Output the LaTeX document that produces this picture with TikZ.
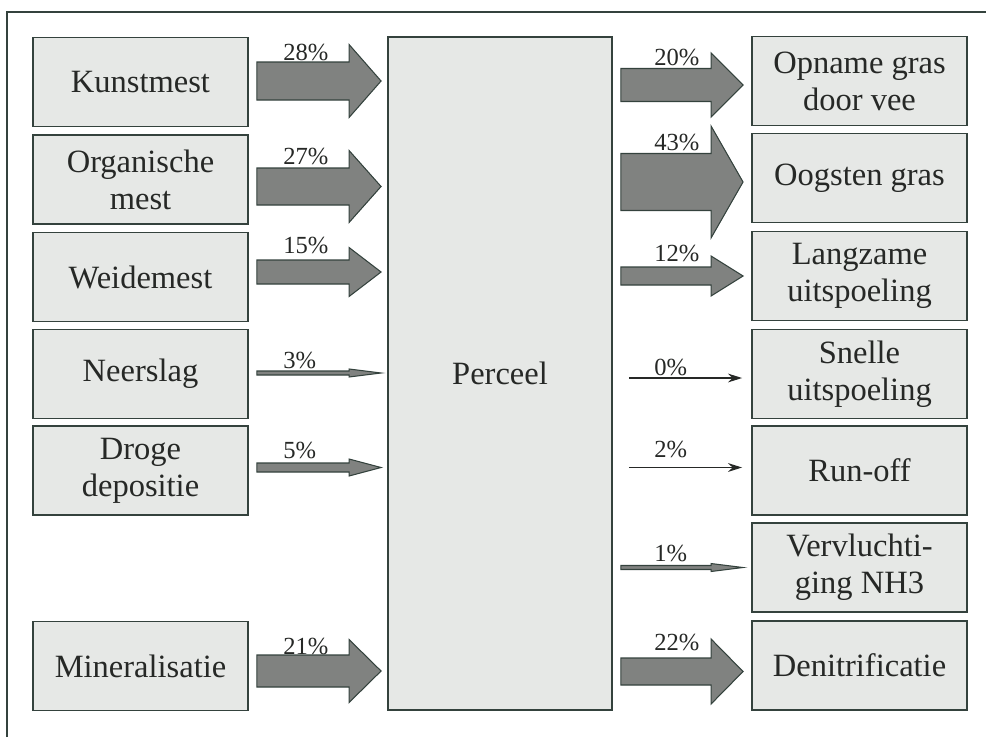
\documentclass[tikz,border=0pt]{standalone}
\usepackage{fontspec}
\setmainfont{Liberation Serif}
\usetikzlibrary{calc,arrows.meta,patterns}

\definecolor{edge}{HTML}{34423D}
\definecolor{boxfill}{HTML}{E6E8E6}
\definecolor{arrowfill}{HTML}{808280}
\definecolor{ink}{HTML}{262826}

\tikzset{
  post/.style={draw=edge, line width=1.1pt, fill=boxfill, minimum width=4.3cm,
    minimum height=1.78cm, align=center, text=ink, inner sep=2pt,
    font=\fontsize{18.5}{21}\selectfont},
  pct/.style={text=ink, font=\fontsize{14}{16}\selectfont, inner sep=0pt, anchor=west},
  flowfill/.style={draw=edge, line width=0.6pt, fill=arrowfill},
  thinflow/.style={draw=ink, line width=0.7pt, -{Stealth[length=8pt,width=5pt]}},
}

% block arrow from (s) to (t): shaft half width, head half width
\newcommand{\blockarrow}[2]{\draw[flowfill] ($(s)+(0,-#1)$) -- ($(t)+(-32,-#1)$) -- ($(t)+(-32,-#2)$) -- (t) -- ($(t)+(-32,#2)$) -- ($(t)+(-32,#1)$) -- ($(s)+(0,#1)$) -- cycle;}
% source -> perceel
\newcommand{\inflow}[6]{%
  \path ($(#1.east)+(8,#2)$) coordinate (s) ($(perceel.west |- s)+(-6,0)$) coordinate (t);
  \blockarrow{#3}{#4}
  \node[pct] at ($(s)+(26,-#6)$) {#5};}
% perceel -> target
\newcommand{\outflow}[6]{%
  \path ($(#1.west)+(-8,#2)$) coordinate (t) ($(perceel.east |- t)+(8,0)$) coordinate (s);
  \blockarrow{#3}{#4}
  \node[pct] at ($(s)+(33,-#6)$) {#5};}

\begin{document}
\begin{tikzpicture}[x=0.02cm, y=-0.02cm]
  \useasboundingbox (0,0) rectangle (986,737);
  \draw[edge, line width=1.4pt] (7,737) -- (7,12) -- (986,12);

  % sources
  \node[post] (kunst) at (140.5,82) {Kunstmest};
  \node[post] (organisch) at (140.5,179.5) {Organische\\mest};
  \node[post] (weide) at (140.5,277) {Weidemest};
  \node[post] (neerslag) at (140.5,374) {Neerslag};
  \node[post] (droge) at (140.5,470.5) {Droge\\depositie};
  \node[post] (mineraal) at (140.5,666) {Mineralisatie};

  % field
  \node[post, minimum width=4.48cm, minimum height=13.46cm] (perceel) at (500,373.5) {Perceel};

  % sinks
  \node[post] (opname) at (859.5,81) {Opname gras\\door vee};
  \node[post] (oogsten) at (859.5,178) {Oogsten gras};
  \node[post] (langzaam) at (859.5,276) {Langzame\\uitspoeling};
  \node[post] (snel) at (859.5,374) {Snelle\\uitspoeling};
  \node[post] (runoff) at (859.5,470.5) {Run-off};
  \node[post] (vervl) at (859.5,567.5) {Vervluchti-\\ging NH3};
  \node[post] (denitr) at (859.5,665.5) {Denitrificatie};

  % flows in
  \inflow{kunst}{-1}{19}{36.5}{28\%}{29}
  \inflow{organisch}{7}{18.5}{36}{27\%}{30}
  \inflow{weide}{-5}{12}{24.5}{15\%}{27}
  \inflow{neerslag}{-1}{2}{4}{3\%}{13}
  \inflow{droge}{-3}{4.5}{8.5}{5\%}{17}
  \inflow{mineraal}{5}{16}{31.5}{21\%}{25}

  % flows out
  \outflow{opname}{4}{16.5}{32}{20\%}{28}
  \outflow{oogsten}{4}{28.5}{56}{43\%}{40}
  \outflow{langzaam}{0}{9}{20}{12\%}{23}
  \draw[thinflow] ($(perceel.east |- snel)+(16,4)$) coordinate (z0) -- ($(snel.west)+(-9,4)$);
  \node[pct] (nul) at ($(z0)+(25,-11)$) {0\%};
  \draw[thinflow] ($(perceel.east |- runoff)+(16,-3)$) coordinate (z2) -- ($(runoff.west)+(-9,-3)$);
  \node[pct] (twee) at ($(z2)+(25,-18)$) {2\%};
  \outflow{vervl}{0}{2}{4}{1\%}{14}
  \outflow{denitr}{6}{13.5}{32.5}{22\%}{29}
\end{tikzpicture}
\end{document}
